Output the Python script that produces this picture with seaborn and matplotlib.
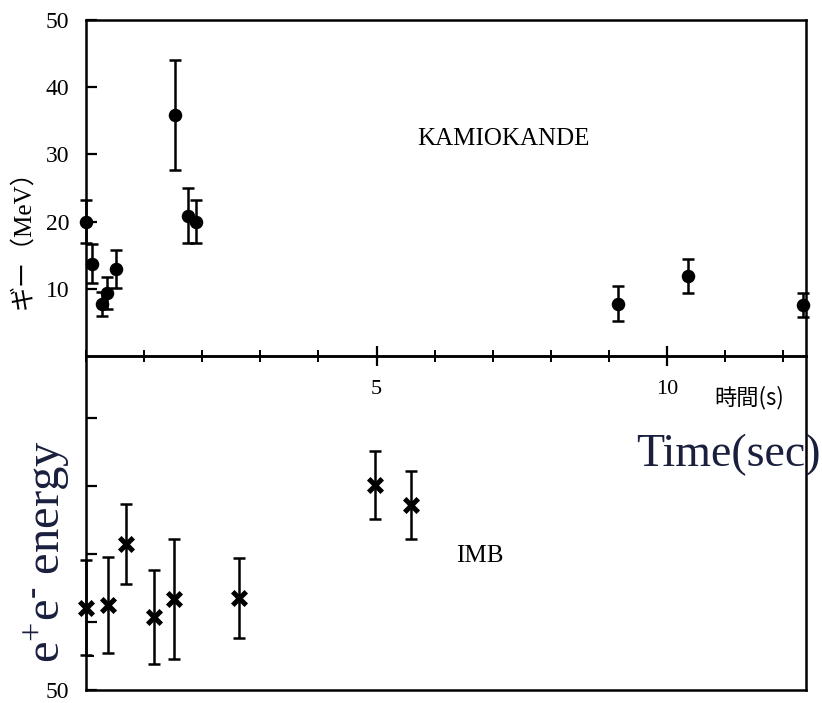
import matplotlib
matplotlib.use("Agg")
import matplotlib.pyplot as plt
from matplotlib.ticker import MultipleLocator, FixedLocator
import seaborn as sns
import pandas as pd

# ---- data ----
kam_time = [0.0, 0.10, 0.27, 0.36, 0.52, 1.53, 1.75, 1.89, 9.16, 10.36, 12.34]
kam_energy = [20.0, 13.7, 7.7, 9.4, 12.9, 35.9, 20.9, 20.0, 7.8, 11.9, 7.6]
kam_err = [3.2, 2.9, 1.8, 2.4, 2.8, 8.2, 4.1, 3.2, 2.6, 2.6, 1.8]

imb_time = [0.0, 0.38, 0.69, 1.17, 1.52, 2.63, 4.97, 5.60]
imb_energy = [37.9, 37.5, 28.5, 39.3, 36.6, 36.5, 19.9, 22.8]
imb_err = [7.0, 7.0, 5.9, 6.9, 8.8, 5.9, 5.0, 5.0]

x_major = [5, 10]
top_yticks = [10, 20, 30, 40, 50]
bottom_yticks = [10, 20, 30, 40, 50]
bottom_ylabels = ["", "", "", "", "50"]

kam = pd.DataFrame({"t": kam_time, "E": kam_energy, "err": kam_err})
imb = pd.DataFrame({"t": imb_time, "E": imb_energy, "err": imb_err})

sns.set_theme(style="white")
plt.rcParams["font.family"] = ["Liberation Serif", "Noto Sans CJK JP", "DejaVu Sans"]
plt.rcParams["mathtext.fontset"] = "custom"
plt.rcParams["mathtext.rm"] = "Liberation Serif"
plt.rcParams["mathtext.it"] = "Liberation Serif:italic"
for key in ("text.color", "axes.labelcolor", "xtick.color", "ytick.color"):
    plt.rcParams[key] = "black"

fig = plt.figure(figsize=(8.22, 7.03), dpi=100)
fig.patch.set_facecolor("white")
ax1 = fig.add_axes([0.1046, 0.4936, 0.8759, 0.4780])
ax2 = fig.add_axes([0.1046, 0.0185, 0.8759, 0.4751])
for ax in (ax1, ax2):
    ax.set_facecolor("none")
    for s in ax.spines.values():
        s.set_linewidth(1.8)
        s.set_color("black")
ax1.set_zorder(3)

XMAX = 12.39

# ---- Kamiokande (top) ----
ax1.errorbar(kam["t"], kam["E"], yerr=kam["err"], fmt="none", ecolor="black",
             elinewidth=1.8, capsize=4.5, capthick=1.8, clip_on=False, zorder=3)
sns.scatterplot(data=kam, x="t", y="E", ax=ax1, color="black", s=95,
                marker="o", edgecolor="black", linewidth=0, clip_on=False,
                zorder=4, legend=False)
ax1.set_xlim(0, XMAX)
ax1.set_ylim(0, 50)
ax1.set_xlabel("")
ax1.set_ylabel("")
ax1.xaxis.set_major_locator(FixedLocator(x_major))
ax1.xaxis.set_minor_locator(MultipleLocator(1))
ax1.set_xticklabels([str(v) for v in x_major])
ax1.yaxis.set_major_locator(FixedLocator(top_yticks))
ax1.set_yticklabels([str(v) for v in top_yticks])
ax1.tick_params(axis="x", which="major", direction="inout", length=14, width=1.6,
                labelsize=16, pad=10, bottom=True, top=False)
ax1.tick_params(axis="x", which="minor", direction="inout", length=9, width=1.4,
                bottom=True, top=False)
ax1.tick_params(axis="y", which="major", direction="in", length=8, width=1.6,
                labelsize=17, pad=12, left=True, right=False)
ax1.text(7.18, 32.3, "KAMIOKANDE", ha="center", va="center", fontsize=18)

# ---- IMB (bottom, energy axis inverted) ----
ax2.errorbar(imb["t"], imb["E"], yerr=imb["err"], fmt="none", ecolor="black",
             elinewidth=1.8, capsize=4.5, capthick=1.8, clip_on=False, zorder=3)
sns.scatterplot(data=imb, x="t", y="E", ax=ax2, color="black", s=95,
                marker="x", linewidth=3.6, clip_on=False, zorder=4, legend=False)
ax2.set_xlim(0, XMAX)
ax2.set_ylim(50, 0.9)
ax2.set_xlabel("")
ax2.set_ylabel("")
ax2.set_xticks([])
ax2.yaxis.set_major_locator(FixedLocator(bottom_yticks))
ax2.set_yticklabels(bottom_ylabels)
ax2.yaxis.set_minor_locator(FixedLocator([45]))
ax2.tick_params(axis="y", which="major", direction="in", length=8, width=1.6,
                labelsize=17, pad=12, left=True, right=False)
ax2.tick_params(axis="y", which="minor", direction="in", length=6, width=1.4,
                left=True, right=False)
ax2.text(6.77, 30.3, "IMB", ha="center", va="center", fontsize=18)

# ---- labels ----
fig.text(0.027, 0.668, "ギー（MeV）", rotation=90, ha="center", va="center",
         fontsize=18, family=["Liberation Serif", "Noto Sans CJK JP"])
fig.text(0.912, 0.435, "時間(s)", ha="center", va="center", fontsize=16,
         family=["Noto Sans CJK JP", "Liberation Serif"])
fig.text(0.886, 0.353, "Time(sec)", ha="center", va="center", fontsize=33,
         color="#1a1f3d")
fig.text(0.057, 0.216, "e$^{+}$e$^{\u2010}$ energy", rotation=90, ha="center",
         va="center", fontsize=35, color="#1a1f3d")

fig.savefig("out.png", dpi=100, facecolor="white")
